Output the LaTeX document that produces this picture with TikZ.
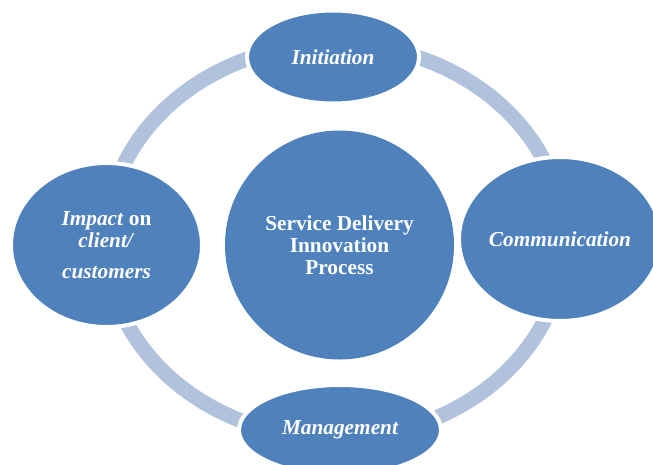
\documentclass[tikz,border=0pt]{standalone}
\usepackage{fontspec}
\setmainfont{Liberation Serif}
\usetikzlibrary{shapes.geometric}
\definecolor{bubblefill}{HTML}{4F81BD}
\definecolor{ringcol}{HTML}{B1C2DD}
\tikzset{
  bubble/.style={ellipse, fill=bubblefill, draw=white, line width=4pt,
    inner sep=0pt, outer sep=0pt, text=white, align=center,
    font=\fontsize{21.3pt}{21.8pt}\selectfont\bfseries},
  ringshape/.style={ellipse, draw=ringcol, line width=15pt, inner sep=0pt,
    minimum width=458pt, minimum height=394pt}
}
\begin{document}
\begin{tikzpicture}[x=1pt,y=-1pt]
\useasboundingbox (0,0) rectangle (653,464);
\clip (0,0) rectangle (653,464);
\fill[white] (0,0) rectangle (653,464);
\node[ringshape] (ring) at (335,241) {};
\node[bubble, minimum width=172pt, minimum height=93pt] (init) at (333,57) {\itshape Initiation};
\node[bubble, minimum width=191pt, minimum height=164pt] (impact) at (106.5,245)
  {\textit{Impact} on\\ \textit{client/}\\[9pt] \textit{customers}};
\node[bubble, minimum width=202pt, minimum height=164pt] (comm) at (560,239) {\itshape Communication};
\node[bubble, minimum width=202pt, minimum height=90pt] (mgmt) at (340,430) {\itshape Management};
\node[bubble, circle, draw=none, minimum size=229pt] (core) at (339.5,245)
  {Service Delivery\\ Innovation\\ Process};
\end{tikzpicture}
\end{document}
